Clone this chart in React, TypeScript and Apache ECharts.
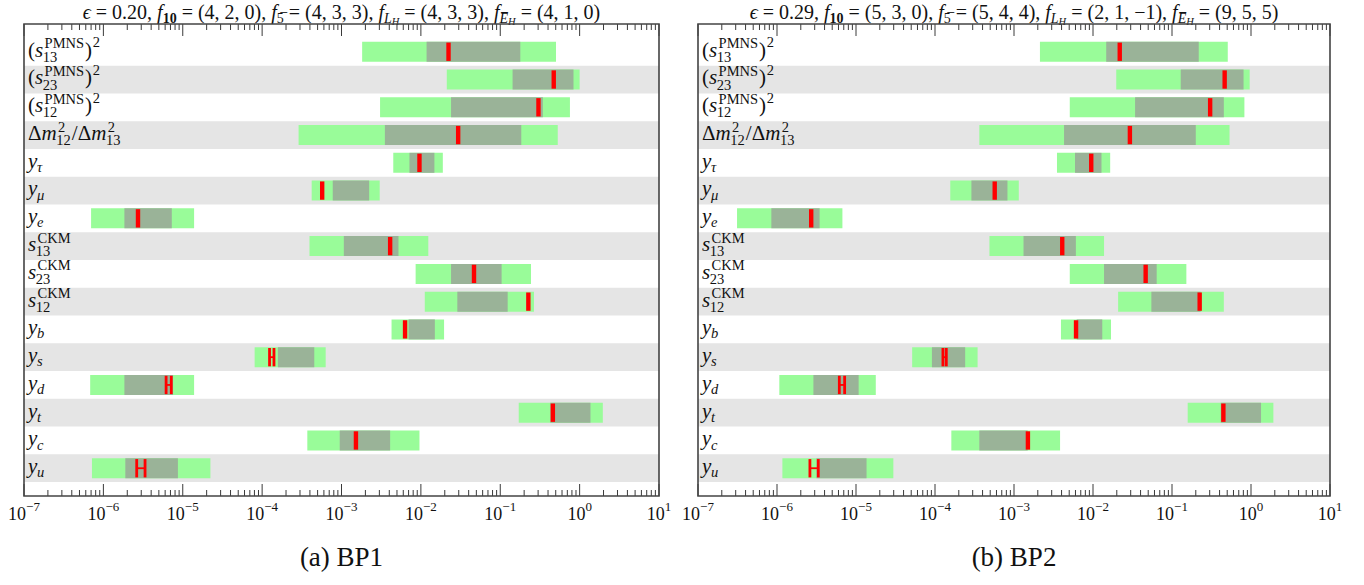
import React, { useEffect, useRef } from "react";
import * as echarts from "echarts";

const SERIF = '"Liberation Serif", "DejaVu Serif", serif';

// ---------- categories (row labels, top to bottom) ----------
type Tok = { b?: string; it?: boolean; sup?: string; sub?: string; subIt?: boolean };
const rowLabels: Tok[][] = [
  [{ b: "(" }, { b: "s", it: true }, { sup: "PMNS", sub: "13" }, { b: ")" }, { sup: "2" }],
  [{ b: "(" }, { b: "s", it: true }, { sup: "PMNS", sub: "23" }, { b: ")" }, { sup: "2" }],
  [{ b: "(" }, { b: "s", it: true }, { sup: "PMNS", sub: "12" }, { b: ")" }, { sup: "2" }],
  [{ b: "Δ" }, { b: "m", it: true }, { sup: "2", sub: "12" }, { b: "/" }, { b: "Δ" }, { b: "m", it: true }, { sup: "2", sub: "13" }],
  [{ b: "y", it: true }, { sub: "τ", subIt: true }],
  [{ b: "y", it: true }, { sub: "μ", subIt: true }],
  [{ b: "y", it: true }, { sub: "e", subIt: true }],
  [{ b: "s", it: true }, { sup: "CKM", sub: "13" }],
  [{ b: "s", it: true }, { sup: "CKM", sub: "23" }],
  [{ b: "s", it: true }, { sup: "CKM", sub: "12" }],
  [{ b: "y", it: true }, { sub: "b", subIt: true }],
  [{ b: "y", it: true }, { sub: "s", subIt: true }],
  [{ b: "y", it: true }, { sub: "d", subIt: true }],
  [{ b: "y", it: true }, { sub: "t", subIt: true }],
  [{ b: "y", it: true }, { sub: "c", subIt: true }],
  [{ b: "y", it: true }, { sub: "u", subIt: true }],
];
const shadedRows = [1, 3, 5, 7, 9, 11, 13, 15];

// ---------- axis ----------
const xMin = 1e-7;
const xMax = 10;
const decadeExps = [-7, -6, -5, -4, -3, -2, -1, 0, 1];
const minorMultipliers = [2, 3, 4, 5, 6, 7, 8, 9];

// ---------- BP1 ----------
const bp1Green: [number, number][] = [
  [1.82e-3, 0.504], [0.0212, 1.0], [3.06e-3, 0.755], [2.88e-4, 0.53],
  [4.49e-3, 0.0189], [4.21e-4, 3.03e-3], [7.0e-7, 1.39e-5], [3.95e-4, 0.0124],
  [8.59e-3, 0.244], [0.0112, 0.266], [4.27e-3, 0.0196], [8.05e-5, 6.32e-4],
  [6.82e-7, 1.39e-5], [0.171, 1.96], [3.71e-4, 9.6e-3], [7.18e-7, 2.23e-5],
];
const bp1Gray: [number, number][] = [
  [0.0118, 0.179], [0.143, 0.837], [0.024, 0.344], [3.52e-3, 0.184],
  [7.18e-3, 0.0148], [7.76e-4, 2.23e-3], [1.84e-6, 7.28e-6], [1.07e-3, 5.22e-3],
  [0.024, 0.104], [0.0288, 0.124], [7.0e-3, 0.015], [1.58e-4, 4.54e-4],
  [1.84e-6, 7.55e-6], [0.427, 1.37], [9.5e-4, 4.1e-3], [1.89e-6, 8.69e-6],
];
const bp1Red: number[][] = [
  [0.0223], [0.472], [0.303], [0.0295],
  [9.6e-3], [5.71e-4], [2.73e-6], [4.1e-3],
  [0.0467], [0.226], [6.32e-3], [1.24e-4, 1.41e-4],
  [6.17e-6, 7.17e-6], [0.46], [1.52e-3], [2.63e-6, 3.35e-6],
];

// ---------- BP2 ----------
const bp2Green: [number, number][] = [
  [2.13e-3, 0.508], [0.0197, 0.962], [5.08e-3, 0.825], [3.64e-4, 0.535],
  [3.5e-3, 0.0165], [1.56e-4, 1.15e-3], [3.12e-7, 6.73e-6], [4.89e-4, 0.0138],
  [5.08e-3, 0.152], [0.0208, 0.453], [3.93e-3, 0.0169], [5.14e-5, 3.46e-4],
  [1.07e-6, 1.78e-5], [0.158, 1.92], [1.61e-4, 3.83e-3], [1.17e-6, 2.97e-5],
];
const bp2Gray: [number, number][] = [
  [0.0147, 0.218], [0.129, 0.805], [0.0341, 0.453], [4.3e-3, 0.2],
  [5.92e-3, 0.0128], [2.89e-4, 8.26e-4], [8.48e-7, 3.46e-6], [1.32e-3, 6.07e-3],
  [0.0138, 0.064], [0.0548, 0.23], [6.22e-3, 0.0131], [9.14e-5, 2.41e-4],
  [2.89e-6, 1.08e-5], [0.414, 1.34], [3.64e-4, 1.49e-3], [3.16e-6, 1.36e-5],
];
const bp2Red: number[][] = [
  [0.0218], [0.464], [0.304], [0.0293],
  [9.5e-3], [5.7e-4], [2.71e-6], [4.08e-3],
  [0.0464], [0.224], [6.1e-3], [1.26e-4, 1.39e-4],
  [6.15e-6, 7.18e-6], [0.447], [1.5e-3], [2.61e-6, 3.33e-6],
];

const bp1Title =
  "{i|ϵ}{r| = 0.20, }{i|f}{sb|10}{r| = (4, 2, 0), }{i|f}{s|5\u0305}{r| = (4, 3, 3), }{i|f}{si|L}{ssi|H}{r| = (4, 3, 3), }{i|f}{si|E\u0305}{ssi|H}{r| = (4, 1, 0)}";
const bp2Title =
  "{i|ϵ}{r| = 0.29, }{i|f}{sb|10}{r| = (5, 3, 0), }{i|f}{s|5\u0305}{r| = (5, 4, 4), }{i|f}{si|L}{ssi|H}{r| = (2, 1, −1), }{i|f}{si|E\u0305}{ssi|H}{r| = (9, 5, 5)}";

const panels = [
  { green: bp1Green, gray: bp1Gray, red: bp1Red, title: bp1Title, caption: "(a) BP1" },
  { green: bp2Green, gray: bp2Gray, red: bp2Red, title: bp2Title, caption: "(b) BP2" },
];

// layout
const GRIDS = [
  { left: 24, top: 24, width: 635, height: 472 },
  { left: 698, top: 24, width: 632, height: 472 },
];
const GREEN = "#99FC99";
const DARK = "#9AB398";
const BAND = "#E5E5E5";
const RED = "#FF0000";
const INK = "#3a3a3a";

const BASE = 21;
const SCRIPT = 14.5;

let measureCtx: CanvasRenderingContext2D | null = null;
function measure(s: string, size: number, it: boolean) {
  if (!measureCtx) measureCtx = document.createElement("canvas").getContext("2d");
  const ctx = measureCtx!;
  ctx.font = `${it ? "italic " : ""}${size}px "Liberation Serif"`;
  return ctx.measureText(s).width;
}
function txt(s: string, x: number, baseline: number, size: number, it: boolean) {
  return {
    type: "text",
    x,
    y: baseline - 0.34 * size,
    z: 30,
    silent: true,
    style: {
      text: s,
      fontSize: size,
      fontFamily: SERIF,
      fontStyle: it ? "italic" : "normal",
      fill: "#111",
      textAlign: "left",
      textVerticalAlign: "middle",
    },
  };
}
function labelElements(tokens: Tok[], x0: number, yc: number) {
  const els: any[] = [];
  let x = x0;
  const base = yc + 5;
  let prevIt = false;
  for (const t of tokens) {
    if (t.b) {
      els.push(txt(t.b, x, base, BASE, !!t.it));
      x += measure(t.b, BASE, !!t.it);
      prevIt = !!t.it;
    } else {
      const stacked = !!(t.sup && t.sub);
      let w = 0;
      if (t.sup) {
        const sx = x + (prevIt ? 1.4 : 0.8);
        els.push(txt(t.sup, sx, base - (stacked ? 8.5 : 9.5), SCRIPT, false));
        w = Math.max(w, sx - x + measure(t.sup, SCRIPT, false));
      }
      if (t.sub) {
        const sx = x - (prevIt ? 0.3 : 0);
        els.push(txt(t.sub, sx, base + (stacked ? 5 : 4), SCRIPT, !!t.subIt));
        w = Math.max(w, sx - x + measure(t.sub, SCRIPT, !!t.subIt));
      }
      x += w + 1;
      prevIt = false;
    }
  }
  return els;
}

function rectBetween(api: any, lo: number, hi: number, row: number, half: number, fill: string) {
  const p0 = api.coord([lo, row - half]);
  const p1 = api.coord([hi, row + half]);
  return {
    type: "rect",
    shape: { x: p0[0], y: Math.min(p0[1], p1[1]), width: p1[0] - p0[0], height: Math.abs(p1[1] - p0[1]) },
    style: { fill },
  };
}

export default function App() {
  const ref = useRef<HTMLDivElement>(null);
  useEffect(() => {
    if (!ref.current) return;
    const chart = echarts.init(ref.current, undefined, { renderer: "svg" });

    const tickData: number[][] = [];
    decadeExps.forEach((e) => tickData.push([Math.pow(10, e), 0, 1]));
    decadeExps.slice(0, -1).forEach((e) =>
      minorMultipliers.forEach((m) => tickData.push([m * Math.pow(10, e), 0, 0]))
    );

    const series: any[] = [];
    panels.forEach((p, pi) => {
      const common = { type: "custom", xAxisIndex: pi, yAxisIndex: pi, clip: false, silent: true };
      series.push({
        ...common,
        z: 1,
        encode: { x: 0, y: 1 },
        data: shadedRows.map((r) => [1, r]),
        renderItem: (params: any, api: any) => {
          const cs = params.coordSys;
          const row = api.value(1);
          const a = api.coord([1, row - 0.5])[1];
          const b = api.coord([1, row + 0.5])[1];
          return {
            type: "rect",
            shape: { x: cs.x, y: Math.min(a, b), width: cs.width, height: Math.abs(b - a) },
            style: { fill: BAND },
          };
        },
      });
      series.push({
        ...common,
        z: 2,
        encode: { x: [0, 1], y: 2 },
        data: p.green.map((g, i) => [g[0], g[1], i]),
        renderItem: (_: any, api: any) => rectBetween(api, api.value(0), api.value(1), api.value(2), 0.36, GREEN),
      });
      series.push({
        ...common,
        z: 3,
        encode: { x: [0, 1], y: 2 },
        data: p.gray.map((g, i) => [g[0], g[1], i]),
        renderItem: (_: any, api: any) => rectBetween(api, api.value(0), api.value(1), api.value(2), 0.36, DARK),
      });
      series.push({
        ...common,
        z: 4,
        encode: { x: [0, 1], y: 2 },
        data: p.red.map((v, i) => [v[0], v.length > 1 ? v[1] : v[0], i, v.length]),
        renderItem: (_: any, api: any) => {
          const a = api.value(0);
          const b = api.value(1);
          const row = api.value(2);
          const n = api.value(3);
          const t = api.coord([a, row - 0.33]);
          const u = api.coord([a, row + 0.33]);
          const y0 = Math.min(t[1], u[1]);
          const h = Math.abs(u[1] - t[1]);
          if (n < 2) {
            return { type: "rect", shape: { x: t[0] - 2.2, y: y0, width: 4.4, height: h }, style: { fill: RED } };
          }
          const xb = api.coord([b, row])[0];
          const yc = y0 + h / 2;
          return {
            type: "group",
            children: [
              { type: "rect", shape: { x: t[0] - 1.4, y: y0, width: 2.8, height: h }, style: { fill: RED } },
              { type: "rect", shape: { x: xb - 1.4, y: y0, width: 2.8, height: h }, style: { fill: RED } },
              { type: "rect", shape: { x: t[0], y: yc - 0.9, width: xb - t[0], height: 1.8 }, style: { fill: RED } },
            ],
          };
        },
      });
      series.push({
        ...common,
        z: 6,
        encode: { x: 0, y: 1 },
        data: tickData,
        renderItem: (params: any, api: any) => {
          const cs = params.coordSys;
          const x = api.coord([api.value(0), 0])[0];
          const len = api.value(2) ? 12 : 6;
          return {
            type: "group",
            children: [
              { type: "line", shape: { x1: x, y1: cs.y, x2: x, y2: cs.y + len }, style: { stroke: INK, lineWidth: 1 } },
              {
                type: "line",
                shape: { x1: x, y1: cs.y + cs.height, x2: x, y2: cs.y + cs.height - len },
                style: { stroke: INK, lineWidth: 1 },
              },
            ],
          };
        },
      });
    });

    chart.setOption({
      animation: false,
      backgroundColor: "#ffffff",
      grid: GRIDS.map((g) => ({ ...g, show: false, containLabel: false })),
      xAxis: GRIDS.map((_, i) => ({
        type: "log",
        logBase: 10,
        gridIndex: i,
        min: xMin,
        max: xMax,
        splitNumber: 8,
        axisLine: { show: false },
        axisTick: { show: false },
        splitLine: { show: false },
        axisLabel: {
          margin: 4,
          formatter: (v: number) => {
            const e = Math.round(Math.log10(v));
            return `{b|10}{e|${e < 0 ? "−" + -e : e}}`;
          },
          rich: {
            b: { fontSize: 18, fontFamily: SERIF, color: "#111", lineHeight: 23, verticalAlign: "bottom" },
            e: { fontSize: 13, fontFamily: SERIF, color: "#111", verticalAlign: "top" },
          },
        },
      })),
      yAxis: GRIDS.map((_, i) => ({
        type: "value",
        gridIndex: i,
        min: -1,
        max: 16,
        inverse: true,
        show: false,
      })),
      series,
    });

    const titleRich = {
      r: { fontSize: 20, fontFamily: SERIF, lineHeight: 30, verticalAlign: "middle", fill: "#111" },
      i: { fontSize: 20, fontFamily: SERIF, fontStyle: "italic", lineHeight: 30, verticalAlign: "middle", fill: "#111" },
      s: { fontSize: 14, fontFamily: SERIF, verticalAlign: "bottom", padding: [0, 0, 2, 0], fill: "#111" },
      sb: { fontSize: 14, fontFamily: SERIF, fontWeight: "bold", verticalAlign: "bottom", padding: [0, 0, 2, 0], fill: "#111" },
      si: { fontSize: 14, fontFamily: SERIF, fontStyle: "italic", verticalAlign: "bottom", padding: [0, 0, 2, 0], fill: "#111" },
      ssi: { fontSize: 10.5, fontFamily: SERIF, fontStyle: "italic", verticalAlign: "bottom", fill: "#111" },
    };

    const graphic: any[] = [];
    panels.forEach((p, pi) => {
      const g = GRIDS[pi];
      const cx = g.left + g.width / 2;
      graphic.push({
        type: "rect",
        z: 40,
        silent: true,
        shape: { x: g.left, y: g.top, width: g.width, height: g.height },
        style: { fill: "none", stroke: "#444", lineWidth: 1.6 },
      });
      graphic.push({
        type: "text",
        x: cx,
        y: 12,
        z: 30,
        style: { text: p.title, rich: titleRich, textAlign: "center", textVerticalAlign: "middle", fill: "#111", fontSize: 20, fontFamily: SERIF },
      });
      graphic.push({
        type: "text",
        x: cx,
        y: 557,
        z: 30,
        style: { text: p.caption, fontSize: 27, fontFamily: SERIF, fill: "#111", textAlign: "center", textVerticalAlign: "middle" },
      });
      rowLabels.forEach((toks, ri) => {
        const yc = chart.convertToPixel({ yAxisIndex: pi }, ri) as number;
        labelElements(toks, g.left + 4, yc).forEach((el) => graphic.push(el));
      });
    });
    chart.setOption({ graphic });

    return () => chart.dispose();
  }, []);
  return (
    <div
      ref={ref}
      style={{ position: "fixed", left: 0, top: 0, width: 1364, height: 585, background: "#fff" }}
    />
  );
}
